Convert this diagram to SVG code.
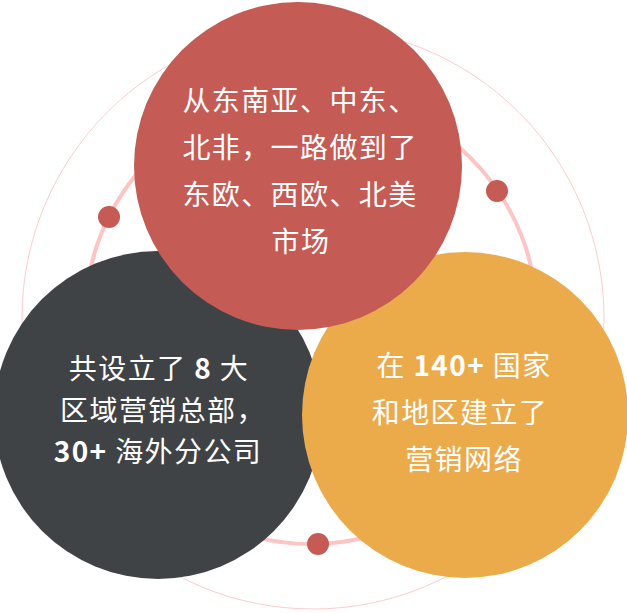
<svg xmlns="http://www.w3.org/2000/svg" width="627" height="613" viewBox="0 0 627 613">
<style>
.t{font-family:"Noto Sans CJK SC","Noto Sans",sans-serif;font-size:28px;fill:#fff;letter-spacing:1.4px;text-anchor:middle}
.b{font-weight:700}
.dot{fill:#c65b55}
</style>
<rect width="627" height="613" fill="#fff"/>
<g id="rings">
<circle cx="313" cy="318" r="291" fill="none" stroke="#fccccc" stroke-width="1"/>
<circle cx="311" cy="318" r="226" fill="none" stroke="#fdc4c4" stroke-width="4"/>
</g>
<g id="dots">
<circle class="dot" cx="109" cy="217" r="11"/>
<circle class="dot" cx="497" cy="191" r="11"/>
<circle class="dot" cx="318" cy="544" r="11"/>
</g>
<g id="node-dark">
<circle cx="158" cy="415" r="164" fill="#404346"/>
<text class="t" x="159" y="379">共设立了 <tspan class="b">8</tspan> 大</text>
<text class="t" x="163" y="421">区域营销总部，</text>
<text class="t" x="158" y="462"><tspan class="b">30+</tspan> 海外分公司</text>
</g>
<g id="node-orange">
<circle cx="465" cy="415" r="163" fill="#ebab4a"/>
<text class="t" x="464" y="376">在 <tspan class="b">140+</tspan> 国家</text>
<text class="t" x="460" y="423">和地区建立了</text>
<text class="t" x="464" y="470">营销网络</text>
</g>
<g id="node-red">
<circle cx="298" cy="166" r="164" fill="#c55b55"/>
<text class="t" x="300" y="111">从东南亚、中东、</text>
<text class="t" x="300" y="158">北非，一路做到了</text>
<text class="t" x="300" y="205">东欧、西欧、北美</text>
<text class="t" x="301" y="252">市场</text>
</g>
</svg>
